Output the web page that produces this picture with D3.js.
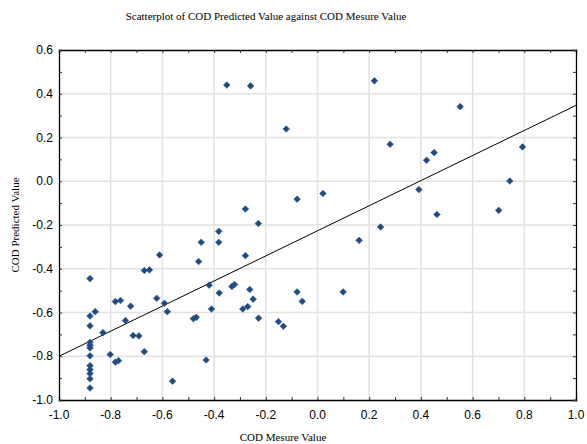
<!DOCTYPE html>
<html>
<head>
<meta charset="utf-8">
<script src="https://cdn.jsdelivr.net/npm/d3@7"></script>
<style>
  body { margin: 0; background: #fff; }
</style>
</head>
<body>
<svg id="drawing_region"></svg>
<script>
const measured = [
    -0.351, -0.259, 0.220, -0.121, 0.281, 0.552, 0.422, 0.451, 0.793, 0.744,
    0.392, 0.021, -0.079, 0.462, 0.701, -0.279, -0.229, 0.244, -0.382, 0.161,
    -0.450, -0.382, -0.279, -0.611, -0.460, -0.670, -0.650, -0.880, -0.331, -0.321,
    -0.419, -0.262, -0.380, -0.622, -0.249, -0.782, -0.762, -0.592, -0.723, -0.270,
    -0.289, -0.410, -0.581, -0.860, -0.880, -0.480, -0.469, -0.743, -0.228, -0.151,
    -0.132, -0.079, -0.059, 0.099, -0.880, -0.830, -0.713, -0.691, -0.880, -0.880,
    -0.880, -0.670, -0.802, -0.880, -0.431, -0.782, -0.770, -0.880, -0.880, -0.880,
    -0.880, -0.880, -0.561
];
const predicted = [
    0.440, 0.436, 0.459, 0.239, 0.169, 0.341, 0.096, 0.131, 0.157, 0.001,
    -0.038, -0.056, -0.082, -0.152, -0.133, -0.127, -0.193, -0.209, -0.229, -0.270,
    -0.279, -0.279, -0.340, -0.337, -0.367, -0.408, -0.405, -0.445, -0.481, -0.472,
    -0.475, -0.495, -0.511, -0.535, -0.539, -0.550, -0.545, -0.558, -0.571, -0.573,
    -0.584, -0.584, -0.596, -0.596, -0.616, -0.628, -0.622, -0.637, -0.626, -0.642,
    -0.663, -0.506, -0.549, -0.506, -0.661, -0.692, -0.705, -0.707, -0.736, -0.750,
    -0.762, -0.779, -0.792, -0.798, -0.817, -0.827, -0.820, -0.843, -0.861, -0.879,
    -0.903, -0.945, -0.914
];
// fitted line end points (x, y)
const fitX = [-1.0, 1.0];
const fitY = [-0.80, 0.347];

const xTicks = [-1.0, -0.8, -0.6, -0.4, -0.2, 0.0, 0.2, 0.4, 0.6, 0.8, 1.0];
const yTicks = [-1.0, -0.8, -0.6, -0.4, -0.2, 0.0, 0.2, 0.4, 0.6];
const minorX = d3.range(-10, 11).map(d => d / 10);
const minorY = d3.range(-10, 7).map(d => d / 10);

const titleText = 'Scatterplot of COD Predicted Value against COD Mesure Value';
const xTitle = 'COD Mesure Value';
const yTitle = 'COD Predicted Value';

const config = {
    width: 587,
    height: 444,
    margin: { top: 50, right: 11, bottom: 44, left: 59 }
};

const data = measured.map( (m, i) => ({ x: m, y: predicted[i] }) );

const svg = d3.select('#drawing_region')
    .attr('width', config.width)
    .attr('height', config.height);

const iw = config.width - config.margin.left - config.margin.right;
const ih = config.height - config.margin.top - config.margin.bottom;

const xScale = d3.scaleLinear().domain([-1, 1]).range([0, iw]);
const yScale = d3.scaleLinear().domain([-1, 0.6]).range([ih, 0]);

const g = svg.append('g')
    .attr('transform', `translate(${config.margin.left}, ${config.margin.top})`);

// grid
g.append('g').selectAll('line')
    .data(xTicks.slice(1, -1))
    .join('line')
    .attr('x1', d => xScale(d)).attr('x2', d => xScale(d))
    .attr('y1', 0).attr('y2', ih)
    .attr('stroke', '#e2e2e2').attr('stroke-width', 1.5);

g.append('g').selectAll('line')
    .data(yTicks.slice(1, -1))
    .join('line')
    .attr('y1', d => yScale(d)).attr('y2', d => yScale(d))
    .attr('x1', 0).attr('x2', iw)
    .attr('stroke', '#e2e2e2').attr('stroke-width', 1.5);

// axes with inward ticks, frame on all sides
const fmt = d => d.toFixed(1);
const bottomAxis = g.append('g')
    .attr('transform', `translate(0, ${ih})`)
    .call(d3.axisBottom(xScale).tickValues(minorX).tickSize(-3).tickFormat(''));
const topAxis = g.append('g')
    .call(d3.axisTop(xScale).tickValues(minorX).tickSize(-3).tickFormat(''));
const leftAxis = g.append('g')
    .call(d3.axisLeft(yScale).tickValues(minorY).tickSize(-3).tickFormat(''));
const rightAxis = g.append('g')
    .attr('transform', `translate(${iw}, 0)`)
    .call(d3.axisRight(yScale).tickValues(minorY).tickSize(-3).tickFormat(''));

[bottomAxis, topAxis, leftAxis, rightAxis].forEach( a => {
    a.select('.domain').attr('stroke', '#000').attr('stroke-width', 1.3);
    a.selectAll('.tick line').attr('stroke', '#333');
});

// tick labels
g.append('g').selectAll('text')
    .data(xTicks)
    .join('text')
    .attr('x', d => xScale(d))
    .attr('y', ih + 19)
    .attr('text-anchor', 'middle')
    .style('font-family', '"Liberation Sans", Arial, sans-serif')
    .style('font-size', '12px')
    .text(d => fmt(d));

g.append('g').selectAll('text')
    .data(yTicks)
    .join('text')
    .attr('x', -6)
    .attr('y', d => yScale(d) + 4)
    .attr('text-anchor', 'end')
    .style('font-family', '"Liberation Sans", Arial, sans-serif')
    .style('font-size', '12px')
    .text(d => fmt(d));

// fitted line
g.append('line')
    .attr('x1', xScale(fitX[0])).attr('y1', yScale(fitY[0]))
    .attr('x2', xScale(fitX[1])).attr('y2', yScale(fitY[1]))
    .attr('stroke', '#000').attr('stroke-width', 1);

// points
const diamond = d3.symbol().type(d3.symbolSquare).size(22);
g.append('g').selectAll('path')
    .data(data)
    .join('path')
    .attr('d', diamond)
    .attr('transform', d => `translate(${xScale(d.x)}, ${yScale(d.y)}) rotate(45)`)
    .attr('fill', '#1f4b85')
    .attr('stroke', '#2c5a94')
    .attr('stroke-width', 0.6);

// titles
svg.append('text')
    .attr('x', 266).attr('y', 20)
    .attr('text-anchor', 'middle')
    .style('font-family', '"Liberation Serif", "Times New Roman", serif')
    .style('font-size', '11px')
    .text(titleText);

svg.append('text')
    .attr('x', 283).attr('y', 441)
    .attr('text-anchor', 'middle')
    .style('font-family', '"Liberation Serif", "Times New Roman", serif')
    .style('font-size', '11px')
    .text(xTitle);

svg.append('text')
    .attr('transform', 'translate(19, 225) rotate(-90)')
    .attr('text-anchor', 'middle')
    .style('font-family', '"Liberation Serif", "Times New Roman", serif')
    .style('font-size', '11px')
    .text(yTitle);
</script>
</body>
</html>
